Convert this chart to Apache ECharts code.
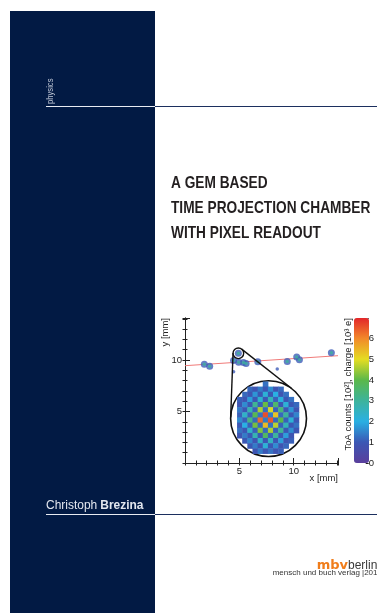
<!DOCTYPE html>
<html>
<head>
<meta charset="utf-8">
<script src="https://cdn.jsdelivr.net/npm/echarts@6/dist/echarts.min.js"></script>
<style>
html,body{margin:0;padding:0;background:#fff;}
#c{width:377px;height:613px;}
</style>
</head>
<body>
<div id="c"></div>
<script>
// ---- data ----
const xRange = [0, 14.08];
const yRange = [0, 14.08];
const xTickLabels = [5, 10];
const yTickLabels = [5, 10];
const cbRange = [0, 7];
const cbTickLabels = [0, 1, 2, 3, 4, 5, 6];
const fitLine = [[0, 9.45], [14.08, 10.42]];
const hitClusters = [[1.78, 9.6], [2.27, 9.4], [4.91, 10.65], [4.47, 9.96], [4.94, 9.78], [5.38, 9.77], [5.62, 9.65], [6.7, 9.83], [9.41, 9.85], [10.28, 10.3], [10.53, 10.03], [13.47, 10.7]];
const singleHits = [[4.47, 8.86], [8.49, 9.12]];
const lensSmall = [4.91, 10.65, 0.49];   // x, y, radius (x units)
const lensBig = [7.69, 4.31, 3.49];
const zoomPixels = [
  [null,null,null,null,null,1.3,null,null,null,null,null,null],
  [null,null,1.2,0.9,1.4,1.0,1.6,0.9,1.2,null,null,null],
  [null,1.2,0.9,1.7,1.0,2.2,1.0,2.0,0.9,1.3,null,null],
  [1.1,0.9,1.8,1.0,2.3,1.0,2.6,1.1,2.1,1.0,1.3,null],
  [0.9,1.6,1.0,3.1,1.1,4.1,1.1,3.6,1.0,2.2,1.0,1.2],
  [1.4,1.0,2.7,1.1,4.6,1.2,4.9,1.1,3.4,1.0,1.7,0.9],
  [1.1,2.4,1.1,3.9,1.3,6.6,1.4,5.3,1.2,3.0,1.0,1.5],
  [1.6,1.1,3.3,1.2,6.3,1.4,6.5,1.2,4.0,1.1,2.2,1.0],
  [1.0,2.0,1.1,4.2,1.2,5.4,1.3,4.7,1.1,2.6,1.0,1.3],
  [1.3,1.0,2.4,1.1,4.3,1.2,4.6,1.1,3.1,1.0,1.6,0.9],
  [0.9,1.4,1.0,2.7,1.0,3.7,1.1,3.0,1.0,1.8,0.9,null],
  [null,1.0,1.5,0.9,2.4,1.0,2.5,1.0,1.8,0.9,1.1,null],
  [null,null,1.0,1.4,0.9,2.2,1.0,1.6,0.9,1.2,null,null],
  [null,null,null,0.9,1.4,1.0,1.3,0.9,1.1,null,null,null]
];
const palette = ['#5a3e9c', '#3b57b4', '#29b0e3', '#3db39c', '#5ab84a', '#e4dd22', '#f28a2a', '#e3262a'];

// ---- build ----
const heatData = [];
zoomPixels.forEach((row, r) => row.forEach((v, c) => { if (v !== null) heatData.push([c, r, v]); }));
const colCats = zoomPixels[0].map((_, i) => i);
const rowCats = zoomPixels.map((_, i) => i);

const sans = '"Liberation Sans", Arial, sans-serif';
const tickFont = { fontFamily: sans, fontSize: 9.5, color: '#222' };
const lineCol = '#222';

const chart = echarts.init(document.getElementById('c'), null, { renderer: 'canvas' });

function mainAxis(extra) {
  return Object.assign({
    type: 'value', gridIndex: 0, min: 0, splitLine: { show: false },
    axisLine: { show: false, lineStyle: { color: lineCol, width: 1 } },
    axisTick: { show: true, inside: true, length: 2.5, lineStyle: { color: lineCol } },
    axisLabel: { show: false }
  }, extra);
}

const option = {
  animation: false,
  grid: [
    { left: 185, top: 318, width: 153, height: 145 },
    { left: 237.3, top: 381.7, width: 61.7, height: 72 },
    { left: 354, top: 318, width: 15, height: 145 }
  ],
  xAxis: [
    mainAxis({ max: xRange[1], position: 'bottom', interval: 5,
      axisLine: { show: true, lineStyle: { color: lineCol, width: 1 } },
      axisTick: { show: true, inside: true, length: 5, lineStyle: { color: lineCol } },
      axisLabel: Object.assign({ show: true, margin: 3, formatter: v => xTickLabels.includes(v) ? String(v) : '' }, tickFont) }),
    mainAxis({ max: xRange[1], position: 'bottom', interval: 1 }),
    mainAxis({ max: xRange[1], position: 'top', interval: 1,
      axisLine: { show: true, lineStyle: { color: lineCol, width: 1 } } }),
    { type: 'category', gridIndex: 1, data: colCats, show: false },
    { type: 'category', gridIndex: 2, data: ['cb'], show: false }
  ],
  yAxis: [
    mainAxis({ max: yRange[1], position: 'left', interval: 5,
      axisLine: { show: true, lineStyle: { color: lineCol, width: 1 } },
      axisTick: { show: true, inside: true, length: 5, lineStyle: { color: lineCol } },
      axisLabel: Object.assign({ show: true, margin: 3, formatter: v => yTickLabels.includes(v) ? String(v) : '' }, tickFont) }),
    mainAxis({ max: yRange[1], position: 'left', interval: 1 }),
    mainAxis({ max: yRange[1], position: 'right', interval: 1,
      axisLine: { show: true, lineStyle: { color: lineCol, width: 1 } } }),
    { type: 'category', gridIndex: 1, data: rowCats, inverse: true, show: false },
    { type: 'value', gridIndex: 2, min: cbRange[0], max: cbRange[1], interval: 1, position: 'right',
      splitLine: { show: false },
      axisLine: { show: false },
      axisTick: { show: true, inside: false, length: 3, lineStyle: { color: lineCol } },
      axisLabel: Object.assign({ show: true, margin: 3, formatter: v => cbTickLabels.includes(v) ? String(v) : '' }, tickFont) }
  ],
  visualMap: {
    type: 'continuous', min: cbRange[0], max: cbRange[1], seriesIndex: [3],
    orient: 'vertical', left: 354, top: 318, itemWidth: 15, itemHeight: 145,
    padding: 0, calculable: false, hoverLink: false, text: null,
    inRange: { color: palette }
  },
  series: [
    { type: 'line', xAxisIndex: 0, yAxisIndex: 0, data: fitLine, symbol: 'none', z: 2,
      lineStyle: { color: '#f07a78', width: 1 } },
    { type: 'scatter', xAxisIndex: 0, yAxisIndex: 0, data: hitClusters, symbolSize: 7, z: 3,
      itemStyle: { color: '#3f5cb8' } },
    { type: 'custom', xAxisIndex: 0, yAxisIndex: 0, z: 5,
      data: [lensSmall.concat(lensBig)],
      encode: { x: [0, 3], y: [1, 4] },
      renderItem: function (params, api) {
        const c1 = api.coord([api.value(0), api.value(1)]);
        const r1 = api.size([api.value(2), 0])[0];
        const c2 = api.coord([api.value(3), api.value(4)]);
        const r2 = api.size([api.value(5), 0])[0];
        const dx = c2[0] - c1[0], dy = c2[1] - c1[1], d = Math.hypot(dx, dy);
        const ux = dx / d, uy = dy / d, px = -uy, py = ux;
        const cs = (r1 - r2) / d, sn = Math.sqrt(1 - cs * cs);
        const lines = [1, -1].map(s => {
          const nx = ux * cs + px * sn * s, ny = uy * cs + py * sn * s;
          return { type: 'line', shape: { x1: c1[0] + r1 * nx, y1: c1[1] + r1 * ny, x2: c2[0] + r2 * nx, y2: c2[1] + r2 * ny },
            style: { stroke: '#111', lineWidth: 1.4 } };
        });
        return { type: 'group', children: [
          { type: 'circle', shape: { cx: c2[0], cy: c2[1], r: r2 }, style: { fill: '#fff', stroke: '#111', lineWidth: 1.6 } },
          lines[0], lines[1],
          { type: 'circle', shape: { cx: c1[0], cy: c1[1], r: r1 }, style: { fill: 'none', stroke: '#111', lineWidth: 1.4 } }
        ] };
      } },
    { type: 'heatmap', xAxisIndex: 3, yAxisIndex: 3, data: heatData, z: 6, itemStyle: { borderWidth: 0 } },
    { type: 'scatter', xAxisIndex: 0, yAxisIndex: 0, data: hitClusters, symbolSize: 3.5, z: 4,
      itemStyle: { color: '#3fb0a0' } },
    { type: 'scatter', xAxisIndex: 0, yAxisIndex: 0, data: singleHits, symbolSize: 3.5, z: 4,
      itemStyle: { color: '#3f5cb8' } }
  ],
  graphic: [
    { type: 'rect', shape: { x: 10, y: 11, width: 145, height: 602 }, style: { fill: '#021a44' }, z: -10 },
    { type: 'line', shape: { x1: 46, y1: 106.5, x2: 155, y2: 106.5 }, style: { stroke: '#e8ebf2', lineWidth: 1 } },
    { type: 'line', shape: { x1: 155, y1: 106.5, x2: 377, y2: 106.5 }, style: { stroke: '#1c2f5e', lineWidth: 1 } },
    { type: 'line', shape: { x1: 46, y1: 514.5, x2: 155, y2: 514.5 }, style: { stroke: '#e8ebf2', lineWidth: 1 } },
    { type: 'line', shape: { x1: 155, y1: 514.5, x2: 377, y2: 514.5 }, style: { stroke: '#1c2f5e', lineWidth: 1 } },
    { type: 'text', x: 50.5, y: 104, rotation: Math.PI / 2, scaleX: 0.85,
      style: { text: 'physics', fontFamily: sans, fontSize: 9, fill: '#c5cbd9', align: 'left', verticalAlign: 'middle' } },
    { type: 'text', x: 171, y: 183, scaleX: 0.83, style: { text: 'A GEM BASED', fontFamily: sans, fontWeight: 'bold', fontSize: 16.5, fill: '#231f20', align: 'left', verticalAlign: 'middle' } },
    { type: 'text', x: 171, y: 208.3, scaleX: 0.83, style: { text: 'TIME PROJECTION CHAMBER', fontFamily: sans, fontWeight: 'bold', fontSize: 16.5, fill: '#231f20', align: 'left', verticalAlign: 'middle' } },
    { type: 'text', x: 171, y: 233.5, scaleX: 0.83, style: { text: 'WITH PIXEL READOUT', fontFamily: sans, fontWeight: 'bold', fontSize: 16.5, fill: '#231f20', align: 'left', verticalAlign: 'middle' } },
    { type: 'text', x: 46, y: 505.5, scaleX: 0.92, style: { text: '{a|Christoph} {b|Brezina}', align: 'left', verticalAlign: 'middle',
      rich: { a: { fontFamily: sans, fontSize: 13, fill: '#e3e7ef' }, b: { fontFamily: sans, fontSize: 13, fontWeight: 'bold', fill: '#e3e7ef' } } } },
    { type: 'text', x: 316.7, y: 566, style: { text: '{m|mbv}{b|berlin}', align: 'left', verticalAlign: 'middle',
      rich: { m: { fontFamily: '"DejaVu Sans", sans-serif', fontWeight: 'bold', fontSize: 13, fill: '#f07d1b' },
              b: { fontFamily: sans, fontSize: 12, fill: '#3a3a3a' } } } },
    { type: 'text', x: 272.7, y: 573, style: { text: 'mensch und buch verlag |2012', fontFamily: sans, fontSize: 8, fill: '#333', align: 'left', verticalAlign: 'middle' } },
    { type: 'text', x: 165, y: 318, rotation: Math.PI / 2,
      style: { text: 'y [mm]', fontFamily: sans, fontSize: 9.5, fill: '#222', align: 'right', verticalAlign: 'middle' } },
    { type: 'text', x: 338, y: 478, style: { text: 'x [mm]', fontFamily: sans, fontSize: 9.5, fill: '#222', align: 'right', verticalAlign: 'middle' } },
    { type: 'text', x: 348, y: 318, rotation: Math.PI / 2,
      style: { text: 'ToA counts [10²], charge [10³ e]', fontFamily: sans, fontSize: 9.5, fill: '#222', align: 'right', verticalAlign: 'middle' } }
  ]
};
chart.setOption(option);
</script>
</body>
</html>
